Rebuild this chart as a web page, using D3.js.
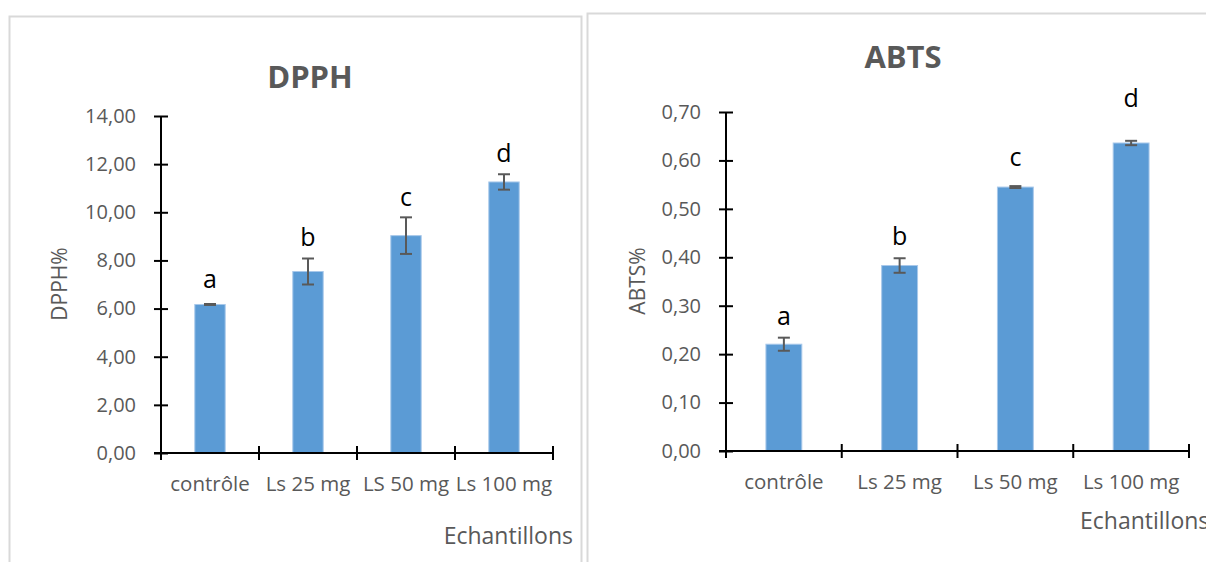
<!DOCTYPE html>
<html>
<head>
<meta charset="utf-8">
<script src="https://cdn.jsdelivr.net/npm/d3@7"></script>
<style>
	body { margin: 0; background: #fff; }
	svg { display: block; font-family: "Open Sans", sans-serif; }
</style>
</head>
<body>
<svg id="chart" width="1206" height="562"></svg>
<script>
// DPPH panel
var dpphCategories = ["contrôle", "Ls 25 mg", "LS 50 mg", "Ls 100 mg"];
var dpphValues = [6.17, 7.54, 9.03, 11.26];
var dpphErrors = [0.02, 0.54, 0.76, 0.32];
var dpphLetters = ["a", "b", "c", "d"];
var dpphLetterY = [6.84, 8.60, 10.25, 12.09];
var dpphTicks = [0, 2, 4, 6, 8, 10, 12, 14];

// ABTS panel
var abtsCategories = ["contrôle", "Ls 25 mg", "Ls 50 mg", "Ls 100 mg"];
var abtsValues = [0.2205, 0.383, 0.545, 0.636];
var abtsErrors = [0.0135, 0.015, 0.002, 0.0045];
var abtsLetters = ["a", "b", "c", "d"];
var abtsLetterY = [0.260, 0.426, 0.589, 0.710];
var abtsTicks = [0, 0.1, 0.2, 0.3, 0.4, 0.5, 0.6, 0.7];

var svg = d3.select("#chart");
var fmt = function(d) { return d3.format(".2f")(d).replace(".", ","); };

// panel frames
svg.append("rect").attr("x", 9.5).attr("y", 16.5).attr("width", 572).attr("height", 600)
	.attr("fill", "none").attr("stroke", "#d9d9d9").attr("stroke-width", 2);
svg.append("rect").attr("x", 587.5).attr("y", 13.5).attr("width", 700).attr("height", 600)
	.attr("fill", "none").attr("stroke", "#d9d9d9").attr("stroke-width", 2);

function drawChart(opt) {
	var g = svg.append("g");

	var x = d3.scaleBand()
		.domain(opt.categories)
		.range([opt.left, opt.right]);

	var y = d3.scaleLinear()
		.domain([0, opt.max])
		.range([opt.bottom, opt.top]);

	var barW = x.bandwidth() * 0.31;
	var rows = opt.categories.map(function(c, i) {
		return { cat: c, v: opt.values[i], e: opt.errors[i], letter: opt.letters[i], ly: opt.letterY[i] };
	});

	// bars
	g.selectAll(".bar")
		.data(rows)
		.enter().append("rect")
		.attr("class", "bar")
		.attr("x", function(d) { return x(d.cat) + (x.bandwidth() - barW) / 2; })
		.attr("y", function(d) { return y(d.v); })
		.attr("width", barW)
		.attr("height", function(d) { return y(0) - y(d.v); })
		.attr("fill", "#5b9bd5")
		.attr("stroke", "#a8c8ea")
		.attr("stroke-width", 1);

	// error bars
	var eb = g.selectAll(".err")
		.data(rows)
		.enter().append("g")
		.attr("class", "err")
		.attr("stroke", "#595959")
		.attr("stroke-width", 2);
	eb.append("line")
		.attr("x1", function(d) { return x(d.cat) + x.bandwidth() / 2; })
		.attr("x2", function(d) { return x(d.cat) + x.bandwidth() / 2; })
		.attr("y1", function(d) { return y(d.v - d.e); })
		.attr("y2", function(d) { return y(d.v + d.e); });
	[1, -1].forEach(function(s) {
		eb.append("line")
			.attr("x1", function(d) { return x(d.cat) + x.bandwidth() / 2 - 6; })
			.attr("x2", function(d) { return x(d.cat) + x.bandwidth() / 2 + 6; })
			.attr("y1", function(d) { return y(d.v + s * d.e); })
			.attr("y2", function(d) { return y(d.v + s * d.e); });
	});

	// significance letters
	g.selectAll(".letter")
		.data(rows)
		.enter().append("text")
		.attr("class", "letter")
		.attr("x", function(d) { return x(d.cat) + x.bandwidth() / 2; })
		.attr("y", function(d) { return y(d.ly); })
		.attr("text-anchor", "middle")
		.attr("font-size", 25)
		.attr("fill", "#000")
		.text(function(d) { return d.letter; });

	// y axis
	var yAxis = g.append("g")
		.attr("transform", "translate(" + opt.left + ",0)")
		.call(d3.axisLeft(y).tickValues(opt.ticks).tickSize(7).tickPadding(18).tickFormat(fmt));
	yAxis.select(".domain").remove();
	yAxis.selectAll(".tick line").attr("x1", 7).attr("stroke", "#000").attr("stroke-width", 2);
	yAxis.selectAll(".tick text")
		.attr("font-family", "Open Sans, sans-serif")
		.attr("font-size", 20)
		.attr("fill", "#595959");
	g.append("line")
		.attr("x1", opt.left).attr("x2", opt.left)
		.attr("y1", opt.top).attr("y2", opt.bottom + 7)
		.attr("stroke", "#000").attr("stroke-width", 2);

	// x axis
	g.append("line")
		.attr("x1", opt.left - 7).attr("x2", opt.right)
		.attr("y1", opt.bottom).attr("y2", opt.bottom)
		.attr("stroke", "#000").attr("stroke-width", 2);
	var edges = opt.categories.map(function(c) { return x(c); }).concat([x.range()[1]]);
	g.selectAll(".xtick")
		.data(edges)
		.enter().append("line")
		.attr("class", "xtick")
		.attr("x1", function(d) { return d; }).attr("x2", function(d) { return d; })
		.attr("y1", opt.bottom - 7).attr("y2", opt.bottom + 7)
		.attr("stroke", "#000").attr("stroke-width", 2);
	g.selectAll(".xlabel")
		.data(opt.categories)
		.enter().append("text")
		.attr("class", "xlabel")
		.attr("x", function(d) { return x(d) + x.bandwidth() / 2; })
		.attr("y", opt.bottom + 38)
		.attr("text-anchor", "middle")
		.attr("font-size", 20.5)
		.attr("fill", "#595959")
		.text(function(d) { return d; });

	// titles
	g.append("text")
		.attr("x", opt.titleX).attr("y", opt.titleY)
		.attr("text-anchor", "middle")
		.attr("font-size", 31).attr("font-weight", "bold")
		.attr("fill", "#595959")
		.text(opt.title);

	g.append("text")
		.attr("transform", "translate(" + opt.ylabelX + "," + opt.ylabelY + ") rotate(-90)")
		.attr("text-anchor", "middle")
		.attr("font-size", 21)
		.attr("fill", "#595959")
		.text(opt.ylabel);

	g.append("text")
		.attr("x", opt.xlabelX).attr("y", opt.xlabelY)
		.attr("text-anchor", opt.xlabelAnchor)
		.attr("font-size", 23)
		.attr("fill", "#595959")
		.text("Echantillons");
}

drawChart({
	categories: dpphCategories, values: dpphValues, errors: dpphErrors,
	letters: dpphLetters, letterY: dpphLetterY, ticks: dpphTicks, max: 14,
	left: 161, right: 553, top: 116, bottom: 453,
	title: "DPPH", titleX: 310, titleY: 88,
	ylabel: "DPPH%", ylabelX: 67, ylabelY: 284,
	xlabelX: 573, xlabelY: 544, xlabelAnchor: "end"
});

drawChart({
	categories: abtsCategories, values: abtsValues, errors: abtsErrors,
	letters: abtsLetters, letterY: abtsLetterY, ticks: abtsTicks, max: 0.7,
	left: 726, right: 1189, top: 112, bottom: 451,
	title: "ABTS", titleX: 903, titleY: 68,
	ylabel: "ABTS%", ylabelX: 645, ylabelY: 281,
	xlabelX: 1080, xlabelY: 529, xlabelAnchor: "start"
});
</script>
</body>
</html>
